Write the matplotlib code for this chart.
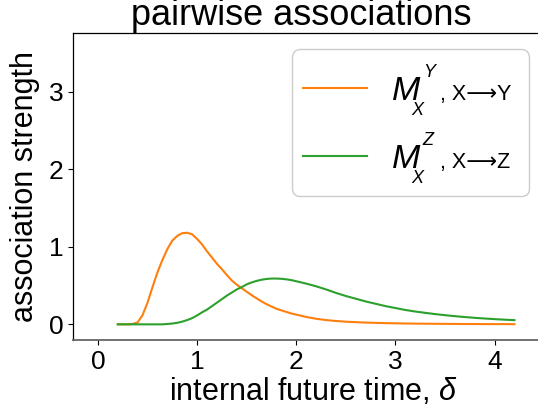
import numpy as np
import matplotlib
matplotlib.use("Agg")
import matplotlib.pyplot as plt
from matplotlib.lines import Line2D
from matplotlib.offsetbox import (AnchoredOffsetbox, HPacker, VPacker,
                                  DrawingArea)

plt.rcParams["font.family"] = ["Liberation Sans", "DejaVu Sans"]
plt.rcParams["mathtext.fontset"] = "custom"
plt.rcParams["mathtext.rm"] = "Liberation Sans"
plt.rcParams["mathtext.it"] = "Liberation Sans:italic"

# ── data ──────────────────────────────────────────────────────
delta = [0.2, 0.25, 0.3, 0.35, 0.4, 0.45, 0.5, 0.55, 0.6, 0.65,
         0.7, 0.75, 0.8, 0.85, 0.9, 0.95, 1.0, 1.05, 1.1, 1.15,
         1.2, 1.25, 1.3, 1.35, 1.4, 1.45, 1.5, 1.55, 1.6, 1.65,
         1.7, 1.75, 1.8, 1.85, 1.9, 1.95, 2.0, 2.1, 2.2, 2.3,
         2.4, 2.5, 2.6, 2.7, 2.8, 2.9, 3.0, 3.1, 3.2, 3.3,
         3.4, 3.5, 3.6, 3.7, 3.8, 3.9, 4.0, 4.1, 4.2]

m_xy = [0.0, 0.0, 0.0, 0.005, 0.025, 0.12, 0.28, 0.48, 0.67, 0.83,
        0.97, 1.08, 1.14, 1.175, 1.18, 1.16, 1.10, 1.03, 0.94, 0.86,
        0.78, 0.71, 0.635, 0.565, 0.51, 0.465, 0.42, 0.375, 0.335, 0.295,
        0.26, 0.23, 0.20, 0.18, 0.16, 0.14, 0.125, 0.095, 0.072, 0.055,
        0.043, 0.034, 0.028, 0.023, 0.019, 0.016, 0.013, 0.011, 0.009, 0.008,
        0.007, 0.006, 0.005, 0.004, 0.004, 0.003, 0.003, 0.003, 0.002]

m_xz = [0.0, 0.0, 0.0, 0.0, 0.0, 0.0, 0.0, 0.0, 0.0, 0.0,
        0.005, 0.01, 0.02, 0.035, 0.055, 0.08, 0.115, 0.155, 0.19, 0.235,
        0.28, 0.325, 0.37, 0.41, 0.45, 0.48, 0.515, 0.54, 0.56, 0.575,
        0.585, 0.59, 0.59, 0.587, 0.58, 0.57, 0.555, 0.525, 0.49, 0.45,
        0.405, 0.365, 0.33, 0.295, 0.265, 0.235, 0.21, 0.185, 0.165, 0.148,
        0.132, 0.118, 0.105, 0.094, 0.084, 0.075, 0.067, 0.06, 0.054]

series = [m_xy, m_xz]
colors = ["#ff7f0e", "#2ca02c"]
sups = ["Y", "Z"]
tails = [", X\u27f6Y", ", X\u27f6Z"]

xticks = [0, 1, 2, 3, 4]
yticks = [0, 1, 2, 3]

# ── figure ────────────────────────────────────────────────────
fig = plt.figure(figsize=(5.38, 4.17), dpi=100)
ax = fig.add_axes([0.136, 0.185, 0.894, 0.735])

for ys, c in zip(series, colors):
    ax.plot(delta, ys, color=c, lw=1.5)

ax.set_xlim(-0.25, 4.6)
ax.set_ylim(-0.2, 3.75)
ax.set_xticks(xticks)
ax.set_yticks(yticks)
ax.tick_params(labelsize=19)
ax.set_xlabel(r"internal future time, $\delta$", fontsize=22, labelpad=2)
ax.set_ylabel("association strength", fontsize=22, labelpad=6)
# title sits high, its top clipped by the edge as in the original
fig.text(301 / 538, 1 - 25 / 417, "pairwise associations", fontsize=26,
         ha="center", va="baseline")

ax.spines["bottom"].set_color("0.4")
ax.spines["bottom"].set_linewidth(1.3)
for s in ("left", "top", "right"):
    ax.spines[s].set_linewidth(0.9)

# ── legend: big italic M with detached scripts ────────────────
rows = []
for c, sup, tail in zip(colors, sups, tails):
    hd = DrawingArea(46, 40.5, 0, 12)
    hd.add_artist(Line2D([0, 46], [8.6, 8.6], color=c, lw=1.5))
    lab = DrawingArea(91, 40.5, 0, 12)
    lab.add_artist(plt.Text(0, 0, "M", fontsize=24.5, style="italic",
                            va="baseline"))
    lab.add_artist(plt.Text(22.5, 16.6, sup, fontsize=13, style="italic",
                            va="baseline"))
    lab.add_artist(plt.Text(14.4, -10.8, "X", fontsize=13, style="italic",
                            va="baseline"))
    lab.add_artist(plt.Text(34.6, 0, tail, fontsize=15.5, va="baseline"))
    rows.append(HPacker(children=[hd, lab], align="baseline", pad=0, sep=18))

box = VPacker(children=rows, align="left", pad=0, sep=8.7)
anc = AnchoredOffsetbox(loc="upper right", child=box, pad=0.8,
                        prop=dict(size=10), frameon=True, borderpad=0,
                        bbox_to_anchor=(529 / 538, 1 - 49.3 / 417),
                        bbox_transform=fig.transFigure)
anc.patch.set_boxstyle("round,pad=0,rounding_size=0.6")
anc.patch.set_edgecolor("0.8")
anc.patch.set_linewidth(1.0)
ax.add_artist(anc)

plt.savefig("out.png", dpi=100)
